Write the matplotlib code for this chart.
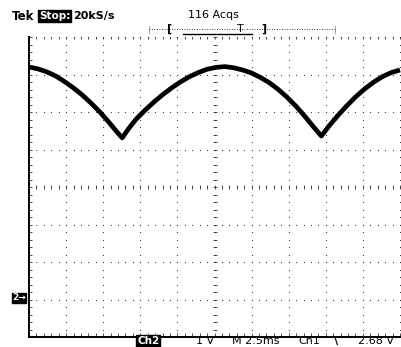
import numpy as np
import matplotlib.pyplot as plt

# Ch1 trace (time in ms, voltage in V relative to screen centre)
t_ms = [0.0, 0.6, 1.2, 1.8, 2.4, 3.0, 3.6, 4.2, 4.8, 5.4, 5.9, 6.28,
        6.7, 7.2, 7.8, 8.4, 9.0, 9.6, 10.2, 10.8, 11.4, 12.0, 12.6, 13.2,
        13.8, 14.4, 15.0, 15.6, 16.2, 16.8, 17.4, 18.0, 18.6, 19.2, 19.7,
        20.2, 20.8, 21.4, 22.0, 22.6, 23.2, 23.8, 24.4, 25.0]
ch1_v = [3.20, 3.15, 3.07, 2.96, 2.81, 2.64, 2.45, 2.23, 1.99, 1.72, 1.48, 1.31,
         1.55, 1.80, 2.04, 2.26, 2.46, 2.64, 2.80, 2.94, 3.05, 3.14, 3.19, 3.21,
         3.18, 3.12, 3.04, 2.92, 2.78, 2.60, 2.39, 2.15, 1.88, 1.59, 1.36,
         1.62, 1.90, 2.16, 2.40, 2.61, 2.79, 2.94, 3.05, 3.12]

header_left = ['Tek', 'Stop:', '20kS/s']
acqs_label = '116 Acqs'
footer_labels = ['Ch2', '1 V', 'M 2.5ms', 'Ch1', '\\', '2.68 V']

W, H = 401, 347
fig = plt.figure(figsize=(W / 100, H / 100), dpi=100)
fig.patch.set_facecolor('white')


def fx(px):
    return px / W


def fy(py):
    return 1 - py / H


ax = fig.add_axes([fx(29), 10 / H, 371 / W, 300 / H])
ax.set_xlim(0, 25)
ax.set_ylim(-4, 4)
ax.set_xticks([])
ax.set_yticks([])
for s in ['top', 'right']:
    ax.spines[s].set_visible(False)
for s in ['left', 'bottom']:
    ax.spines[s].set_linewidth(1.4)

# graticule: dotted division lines
sub = np.arange(0, 40.01, 1) * 0.2
for i in range(1, 11):
    ax.scatter(np.full(sub.size, i * 2.5), sub - 4, s=0.7, c='#333333', lw=0)
subx = np.arange(0, 50.01, 1) * 0.5
for j in range(-3, 5):
    ax.scatter(subx, np.full(subx.size, j), s=0.7, c='#333333', lw=0)
# centre lines with minor ticks
ax.plot(subx, np.zeros(subx.size), ls='none', marker='|', ms=3, mew=0.6, color='#333333')
ax.plot(np.full(sub.size, 12.5), sub - 4, ls='none', marker='_', ms=3, mew=0.6, color='#333333')
# edge ticks
ax.plot(subx, np.full(subx.size, -3.95), ls='none', marker='|', ms=2.5, mew=0.6, color='#333333')
ax.plot(np.full(sub.size, 0.08), sub - 4, ls='none', marker='_', ms=2.5, mew=0.6, color='#333333')
ax.plot(subx, np.full(subx.size, 3.97), ls='none', marker='|', ms=2.0, mew=0.6, color='#333333')

ax.plot(t_ms, ch1_v, color='black', lw=3.4, solid_joinstyle='round', solid_capstyle='butt',
        clip_on=False)

# header
fig.text(fx(12), fy(16), header_left[0], fontsize=8.5, fontweight='bold', va='center')
fig.text(fx(39), fy(16), header_left[1], fontsize=7.5, fontweight='bold', color='white', va='center',
         bbox=dict(boxstyle='square,pad=0.08', fc='black', ec='black'))
fig.text(fx(73), fy(16), header_left[2], fontsize=8, fontweight='bold', va='center')
fig.text(fx(188), fy(15), acqs_label, fontsize=8, va='center')

# trigger position bar
fig.add_artist(plt.Line2D([fx(149), fx(335)], [fy(29), fy(29)], lw=0.6, ls=(0, (1, 2)), color='black'))
fig.add_artist(plt.Line2D([fx(149), fx(149)], [fy(26), fy(33)], lw=0.6, ls=(0, (1, 1.5)), color='black'))
fig.add_artist(plt.Line2D([fx(335), fx(335)], [fy(26), fy(33)], lw=0.6, ls=(0, (1, 1.5)), color='black'))
fig.add_artist(plt.Line2D([fx(183), fx(252)], [fy(34), fy(34)], lw=1.0, color='black'))
fig.text(fx(167), fy(29), '[', fontsize=8, fontweight='bold', va='center')
fig.text(fx(237), fy(29), 'T', fontsize=8, va='center')
fig.text(fx(261), fy(29), ']', fontsize=8, fontweight='bold', va='center')

# ground marker
fig.text(fx(12), fy(298), '2\u2192', fontsize=6.5, fontweight='bold', color='white', va='center',
         bbox=dict(boxstyle='square,pad=0.05', fc='black', ec='black'))

# footer
fy_foot = fy(341)
fig.text(fx(137), fy_foot, footer_labels[0], fontsize=7.5, fontweight='bold', color='white', va='center',
         bbox=dict(boxstyle='square,pad=0.05', fc='black', ec='black'))
fig.text(fx(196), fy_foot, footer_labels[1], fontsize=8, va='center')
fig.text(fx(232), fy_foot, footer_labels[2], fontsize=8, va='center')
fig.text(fx(298), fy_foot, footer_labels[3], fontsize=8, va='center')
fig.text(fx(334), fy_foot, footer_labels[4], fontsize=8, fontweight='bold', va='center')
fig.text(fx(358), fy_foot, footer_labels[5], fontsize=8, va='center')

fig.savefig('out.png', dpi=100, facecolor='white')
